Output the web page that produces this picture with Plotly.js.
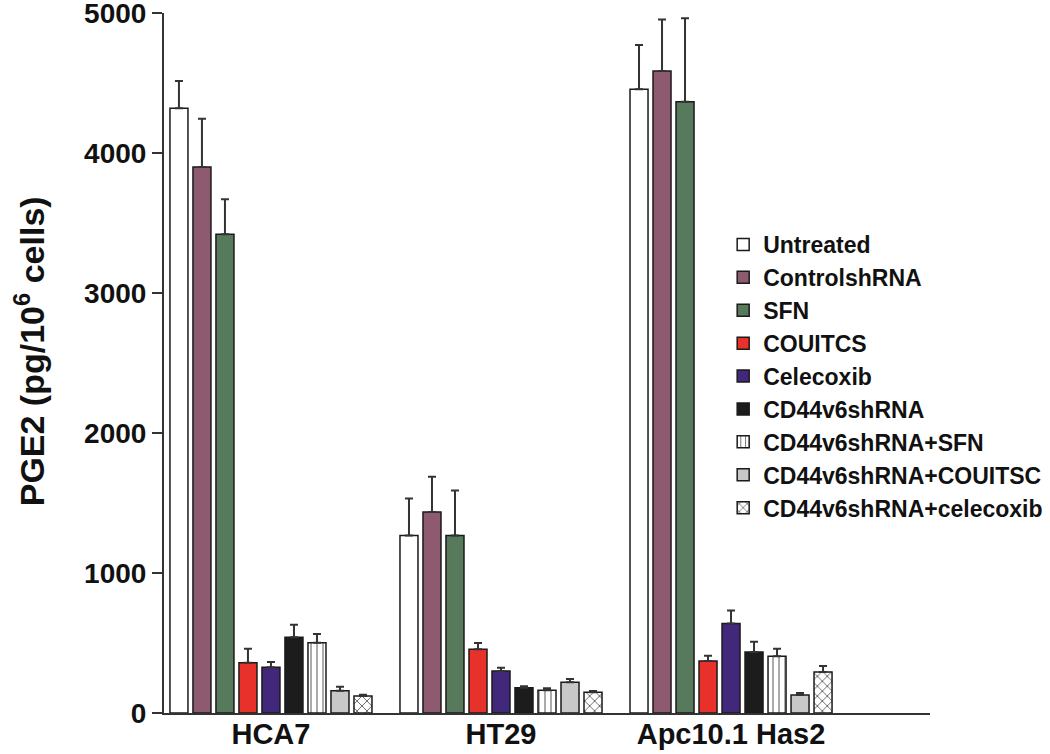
<!DOCTYPE html>
<html>
<head>
<meta charset="utf-8">
<script src="https://cdn.plot.ly/plotly-3.0.1.min.js"></script>
<style>html,body{margin:0;padding:0;background:#fff;}#chart{width:1050px;height:754px;}</style>
</head>
<body>
<div id="chart"></div>
<script>
// Cell lines (x categories)
const cellLines = ['HCA7', 'HT29', 'Apc10.1 Has2'];

// Treatments (series names)
const treatments = ['Untreated', 'ControlshRNA', 'SFN', 'COUITCS', 'Celecoxib', 'CD44v6shRNA',
  'CD44v6shRNA+SFN', 'CD44v6shRNA+COUITSC', 'CD44v6shRNA+celecoxib'];

// PGE2 means (pg/10^6 cells), per treatment across [HCA7, HT29, Apc10.1 Has2]
const untreated      = [4320, 1267, 4455];
const controlshRNA   = [3900, 1436, 4585];
const sfn            = [3420, 1267, 4366];
const couitcs        = [359, 455, 371];
const celecoxib      = [326, 300, 640];
const cd44v6shRNA    = [541, 181, 436];
const cd44Sfn        = [502, 162, 405];
const cd44Couitsc    = [159, 219, 129];
const cd44Celecoxib  = [121, 148, 293];

// Upper error (SEM) per treatment
const errUntreated     = [195, 266, 316];
const errControlshRNA  = [345, 252, 369];
const errSfn           = [250, 323, 596];
const errCouitcs       = [100, 45, 38];
const errCelecoxib     = [38, 24, 93];
const errCd44v6shRNA   = [90, 10, 73];
const errCd44Sfn       = [62, 14, 54];
const errCd44Couitsc   = [29, 24, 14];
const errCd44Celecoxib = [10, 9, 43];

// Axis tick values and title
const yTicks = [0, 1000, 2000, 3000, 4000, 5000];
const yTitle = 'PGE2 (pg/10<sup>6</sup> cells)';

const values = [untreated, controlshRNA, sfn, couitcs, celecoxib, cd44v6shRNA, cd44Sfn, cd44Couitsc, cd44Celecoxib];
const errors = [errUntreated, errControlshRNA, errSfn, errCouitcs, errCelecoxib, errCd44v6shRNA, errCd44Sfn, errCd44Couitsc, errCd44Celecoxib];

const fills = ['#ffffff', '#8d5a70', '#587a5c', '#e8312a', '#42287a', '#1c1c1c', '#ffffff', '#c8c8c8', '#ffffff'];
const patterns = [null, null, null, null, null, null,
  {shape: '|', size: 6, solidity: 0.15, fgcolor: '#444', bgcolor: '#ffffff'},
  null,
  {shape: 'x', size: 7, solidity: 0.18, fgcolor: '#222', bgcolor: '#ffffff'}];

const FONT = 'Liberation Sans, Arial, Helvetica, sans-serif';

const traces = treatments.map((name, i) => {
  const marker = {color: fills[i], line: {color: '#1a1a1a', width: 1.5}};
  if (patterns[i]) marker.pattern = patterns[i];
  return {
    type: 'bar',
    name: name,
    x: cellLines,
    y: values[i],
    marker: marker,
    error_y: {
      type: 'data', array: errors[i], arrayminus: errors[i].map(() => 0), symmetric: false,
      color: '#333333', thickness: 2, width: 4
    },
    legendgroup: 'g' + i,
    hoverinfo: 'x+y+name'
  };
});

const layout = {
  width: 1050, height: 754,
  paper_bgcolor: '#ffffff', plot_bgcolor: '#ffffff',
  margin: {l: 164, r: 120, t: 13, b: 41, pad: 0, autoexpand: false},
  barmode: 'group',
  bargap: 0.1,
  bargroupgap: 0.217,
  showlegend: true,
  font: {family: FONT, color: '#111'},
  xaxis: {
    type: 'category',
    range: [-0.465, 2.865],
    showline: true, linecolor: '#333', linewidth: 2,
    ticks: '', showgrid: false, zeroline: false,
    ticklabelstandoff: -6,
    tickfont: {family: FONT, size: 29, weight: 'bold', color: '#111'}
  },
  yaxis: {
    range: [0, 5000],
    tickvals: yTicks,
    showline: true, linecolor: '#333', linewidth: 2,
    ticks: 'outside', ticklen: 10, tickwidth: 2, tickcolor: '#333',
    showgrid: false, zeroline: false,
    ticklabeloverflow: 'allow',
    tickfont: {family: FONT, size: 28, weight: 'bold', color: '#111'}
  },
  annotations: [{
    xref: 'paper', yref: 'paper', x: -0.176, y: 0.517,
    xanchor: 'center', yanchor: 'middle', textangle: -90, showarrow: false,
    text: yTitle,
    font: {family: FONT, size: 34, weight: 'bold', color: '#111'}
  }],
  legend: {
    x: 0.73, y: 0.70, xanchor: 'left', yanchor: 'top',
    traceorder: 'grouped', tracegroupgap: 0,
    font: {family: FONT, size: 23, weight: 'bold', color: '#111'},
    bgcolor: 'rgba(0,0,0,0)', borderwidth: 0
  }
};

Plotly.newPlot('chart', traces, layout, {displayModeBar: false, staticPlot: true});
</script>
</body>
</html>
